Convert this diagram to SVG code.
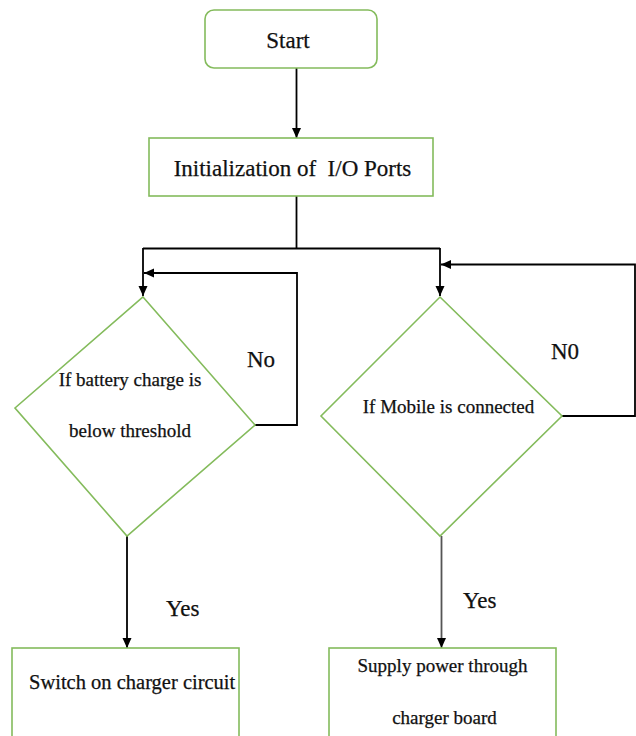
<svg xmlns="http://www.w3.org/2000/svg" width="636" height="736" viewBox="0 0 636 736">
<defs>
<style>
.box{fill:#fff;stroke:#84bb5c;stroke-width:1.6}
.ln{fill:none;stroke:#000;stroke-width:1.8}
.gl{fill:none;stroke:#555;stroke-width:1.8}
text{font-family:"Liberation Serif","Times New Roman",serif;fill:#111;stroke:#111;stroke-width:0.25;white-space:pre}
.big{font-size:23px}
.mid{font-size:19px}
.c{text-anchor:middle}
</style>
<marker id="ah" markerWidth="10" markerHeight="10" refX="10" refY="5" orient="auto" markerUnits="userSpaceOnUse">
<path d="M0,0.5 L10,5 L0,9.5 Z" fill="#000"/>
</marker>
</defs>
<rect width="636" height="736" fill="#fff"/>
<g id="connectors">
<line class="ln" x1="296.5" y1="68" x2="296.5" y2="138" marker-end="url(#ah)"/>
<polyline class="ln" points="296.5,196 296.5,248.5"/>
<polyline class="ln" points="143,248.5 440,248.5"/>
<line class="ln" x1="143" y1="248" x2="143" y2="296" marker-end="url(#ah)"/>
<line class="ln" x1="440" y1="248" x2="440" y2="296" marker-end="url(#ah)"/>
<polyline class="ln" points="255,425 297,425 297,273 144,273" marker-end="url(#ah)"/>
<polyline class="ln" points="562,416 635,416 635,264.5 441,264.5" marker-end="url(#ah)"/>
<line class="ln" x1="127" y1="536" x2="127" y2="648" marker-end="url(#ah)"/>
<line class="gl" x1="441.5" y1="536" x2="441.5" y2="648" marker-end="url(#ah)"/>
</g>
<g id="start">
<rect class="box" x="205" y="10" width="172" height="58" rx="9"/>
<text class="big c" x="288" y="48">Start</text>
</g>
<g id="init">
<rect class="box" x="149" y="138" width="284" height="58"/>
<text class="big c" x="292.5" y="176" xml:space="preserve">Initialization of  I/O Ports</text>
</g>
<g id="battery">
<polygon class="box" points="143,297 255,425 127,536 15,408"/>
<text class="mid c" x="130" y="386">If battery charge is</text>
<text class="mid c" x="130" y="437">below threshold</text>
</g>
<g id="mobile">
<polygon class="box" points="440,297 562,416 440,536 321,416"/>
<text class="mid c" x="448.5" y="413">If Mobile is connected</text>
</g>
<g id="labels">
<text class="big" x="247" y="367">No</text>
<text class="big" x="551" y="359">N0</text>
<text class="big" x="166" y="616">Yes</text>
<text class="big" x="463" y="608">Yes</text>
</g>
<g id="switch">
<rect class="box" x="12" y="648" width="227" height="100"/>
<text class="mid" x="29" y="689" style="font-size:20.5px">Switch on charger circuit</text>
</g>
<g id="supply">
<rect class="box" x="329" y="648" width="227" height="100"/>
<text class="mid c" x="442.5" y="672">Supply power through</text>
<text class="mid c" x="444.5" y="724">charger board</text>
</g>
</svg>
